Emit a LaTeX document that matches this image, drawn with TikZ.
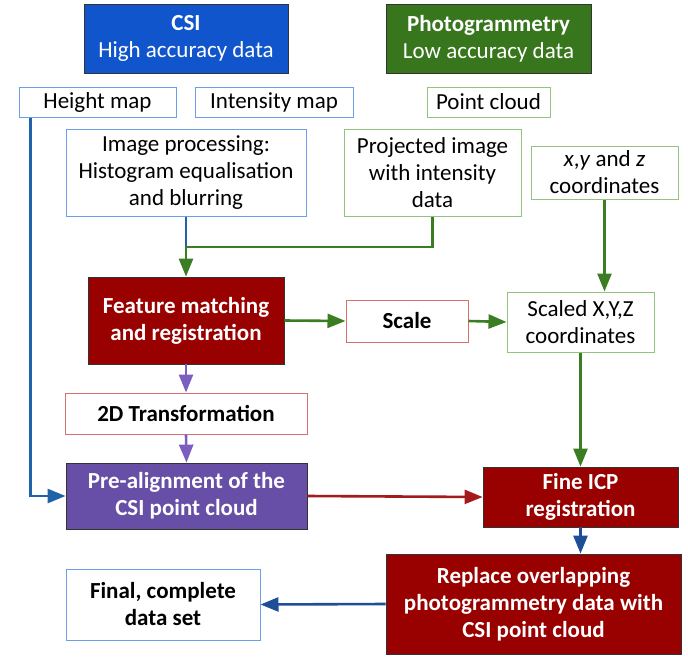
\documentclass[tikz,border=0pt]{standalone}
\usepackage{fontspec}
\setmainfont{Carlito}
\usetikzlibrary{arrows.meta}
\definecolor{csiblue}{HTML}{1155CC}
\definecolor{photogreen}{HTML}{38761D}
\definecolor{lblue}{HTML}{6D9EEB}
\definecolor{lgreen}{HTML}{93C47D}
\definecolor{lred}{HTML}{D47070}
\definecolor{dred}{HTML}{990000}
\definecolor{purp}{HTML}{674EA7}
\definecolor{agreen}{HTML}{3A7D22}
\definecolor{ablue}{HTML}{1F62A8}
\definecolor{adblue}{HTML}{1F4E99}
\definecolor{apurp}{HTML}{7C5EC0}
\definecolor{ared}{HTML}{A31B1B}
\definecolor{dborder}{HTML}{333333}
\tikzset{
  box/.style={rectangle, inner sep=0pt, align=center, font=\fontsize{23}{27}\selectfont, text=black},
  bluebox/.style={box, draw=lblue, line width=1pt, fill=white},
  greenbox/.style={box, draw=lgreen, line width=1pt, fill=white},
  redbox/.style={box, draw=lred, line width=1pt, fill=white, font=\fontsize{23}{27}\selectfont\bfseries},
  darkbox/.style={box, draw=dborder, line width=0.8pt, text=white, font=\fontsize{23}{27}\selectfont\bfseries},
  conn/.style={line width=2.6pt, -{Triangle[length=18pt,width=14pt]}},
  plain/.style={line width=2.6pt},
}
\begin{document}
\begin{tikzpicture}[x=1pt,y=-1pt]
\useasboundingbox (0,0) rectangle (688,656);
% header boxes
\node[darkbox, fill=csiblue, minimum width=204pt, minimum height=69pt] (csi) at (186,38.5)
  {\textbf{CSI}\\\mdseries High accuracy data};
\node[darkbox, fill=photogreen, minimum width=205pt, minimum height=69pt] (photo) at (488.5,38.5)
  {\textbf{Photogrammetry}\\\mdseries Low accuracy data};
% data boxes
\node[bluebox, minimum width=157pt, minimum height=30pt] (height) at (97.5,102) {Height map};
\node[bluebox, minimum width=158pt, minimum height=30pt] (intensity) at (274,102) {Intensity map};
\node[greenbox, minimum width=123pt, minimum height=30pt] (pcloud) at (488.5,102) {Point cloud};
\node[bluebox, minimum width=240pt, minimum height=87pt] (improc) at (186,172.5)
  {Image processing:\\Histogram equalisation\\and blurring};
\node[greenbox, minimum width=177pt, minimum height=87pt] (proj) at (432.5,172.5)
  {Projected image\\with intensity\\data};
\node[greenbox, minimum width=147pt, minimum height=53pt] (xyz) at (604.5,172.5)
  {\textit{x},\textit{y} and \textit{z}\\coordinates};
% process boxes
\node[darkbox, fill=dred, minimum width=196pt, minimum height=87pt] (feat) at (186,320.5)
  {Feature matching\\and registration};
\node[redbox, minimum width=122pt, minimum height=42pt] (scale) at (407,321) {Scale};
\node[greenbox, minimum width=147pt, minimum height=60pt] (scaled) at (580.5,322)
  {Scaled X,Y,Z\\coordinates};
\node[redbox, minimum width=242pt, minimum height=41pt] (twod) at (186,413.5) {2D Transformation};
\node[darkbox, fill=purp, minimum width=241pt, minimum height=66pt] (prealign) at (186.5,496)
  {Pre-alignment of the\\CSI point cloud};
\node[darkbox, fill=dred, minimum width=195pt, minimum height=60pt] (fineicp) at (580.5,497)
  {Fine ICP\\registration};
\node[darkbox, fill=dred, minimum width=295pt, minimum height=100pt] (replace) at (533.5,604)
  {Replace overlapping\\photogrammetry data with\\CSI point cloud};
\node[bluebox, minimum width=194pt, minimum height=71pt, font=\fontsize{23}{27}\selectfont\bfseries] (final) at (163,604.5)
  {Final, complete\\data set};
% connectors
\coordinate (hx) at ([xshift=12pt]height.south west);
\draw[conn, ablue] (hx) |- (prealign.west);
\coordinate (j) at (186,247);
\draw[plain, ablue] (improc.south) -- (j);
\draw[conn, agreen] (proj.south) |- (j) -- (feat.north);
\draw[conn, agreen] (feat.east) -- (scale.west);
\draw[conn, agreen] (scale.east) -- (scaled.west);
\draw[conn, agreen] (xyz.south) -- (xyz.south |- scaled.north);
\draw[conn, agreen] (scaled.south) -- (fineicp.north);
\draw[conn, apurp] (feat.south) -- (twod.north);
\draw[conn, apurp] (twod.south) -- (prealign.north);
\draw[conn, ared] (prealign.east) -- (fineicp.west);
\draw[conn, adblue] (fineicp.south) -- (fineicp.south |- replace.north);
\draw[conn, adblue] (replace.west) -- (final.east);
\end{tikzpicture}
\end{document}
